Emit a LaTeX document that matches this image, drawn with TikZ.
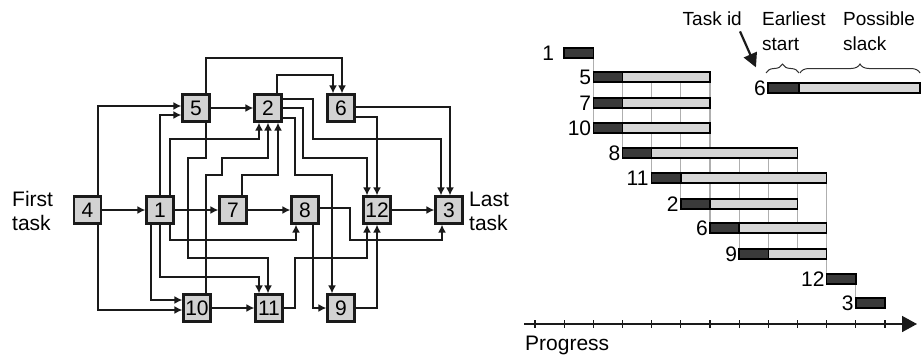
\documentclass[tikz,border=0pt]{standalone}
\usepackage{fontspec}
\setmainfont{Liberation Sans}
\usetikzlibrary{arrows.meta,decorations.pathreplacing,calc}
\definecolor{boxfill}{HTML}{D2D2D2}
\definecolor{bardark}{HTML}{3A3A3A}
\definecolor{barlight}{HTML}{D6D6D6}
\definecolor{linec}{HTML}{1A1A1A}
\definecolor{gridc}{HTML}{AFAFAF}
\begin{document}
\begin{tikzpicture}[x=1pt,y=-1pt,
  task/.style={draw=linec,fill=boxfill,line width=2.2pt,minimum size=27pt,inner sep=0pt,font=\fontsize{21}{24}\selectfont},
  arr/.style={draw=linec,line width=2pt,-{Latex[length=8pt,width=8pt]}},
  lbl/.style={font=\fontsize{21}{24}\selectfont,inner sep=1pt},
  leg/.style={font=\fontsize{19}{25}\selectfont,inner sep=0pt},
  bar/.style={draw=black,line width=1.5pt},
]
\useasboundingbox (0,0) rectangle (924,364);

% ---------- network ----------
\node[task] (n4)  at (87.5,210) {4};
\node[task] (n1)  at (160,210) {1};
\node[task] (n7)  at (233,210) {7};
\node[task] (n8)  at (305,210) {8};
\node[task] (n12) at (377,210) {12};
\node[task] (n3)  at (449,210) {3};
\node[task] (n5)  at (196,108) {5};
\node[task] (n2)  at (268,108) {2};
\node[task] (n6)  at (341,108) {6};
\node[task] (n10) at (197,308) {10};
\node[task] (n11) at (269,308) {11};
\node[task] (n9)  at (341,308) {9};

\node[lbl,anchor=west,align=left] (first) at (11,211) {First\\task};
\node[lbl,anchor=west,align=left] (last) at (468,211) {Last\\task};

\draw[arr] (n4) -- (n1);
\draw[arr] ([xshift=10pt]n4.north) |- ([yshift=2pt]n5.west);
\draw[arr] ([xshift=10pt]n4.south) |- ([yshift=-2pt]n10.west);
\draw[arr] (n1.north) |- ([yshift=-7pt]n5.west);
\draw[arr] ([xshift=10pt]n1.north) |- (259,139) -- ([xshift=-9pt]n2.south);
\draw[arr] (n1) -- (n7);
\draw[arr] ([xshift=-9pt]n1.south) |- ([yshift=8pt]n10.west);
\draw[arr] (n1.south) |- (259,277) -- ([xshift=-10pt]n11.north);
\draw[arr] ([xshift=10pt]n1.south) |- (296,240) -- ([xshift=-9pt]n8.south);
\draw[arr] (n5) -- (n2);
\draw[arr] ([xshift=10pt]n5.north) |- (342,58) -- ([xshift=1pt]n6.north);
\draw[arr] ([xshift=10pt]n5.south) |- (188,158) |- (268,258) -- ([xshift=-1pt]n11.north);
\draw[arr] ([xshift=9pt]n10.north) |- (222,175) |- (268,158) -- (n2.south);
\draw[arr] ([xshift=9pt]n7.north) |- (278,175) -- ([xshift=10pt]n2.south);
\draw[arr] (n7) -- (n8);
\draw[arr] ([xshift=9pt]n2.north) |- (333,75) -- ([xshift=-8pt]n6.north);
\draw[arr] ([yshift=9pt]n2.east) -| (313,139) -| ([xshift=-8pt]n3.north);
\draw[arr] (n2.east) -| (303,158) -| ([xshift=-10pt]n12.north);
\draw[arr] ([yshift=-10pt]n2.east) -| (295,175) -| ([xshift=-9pt]n9.north);
\draw[arr] ([yshift=1pt]n6.east) -| ([xshift=1pt]n3.north);
\draw[arr] ([yshift=-9pt]n6.east) -| (n12.north);
\draw[arr] (n12) -- (n3);
\draw[arr] ([yshift=2pt]n8.east) -| (350,240) -| ([xshift=-7pt]n3.south);
\draw[arr] ([xshift=8pt]n8.south) |- (n9.west);
\draw[arr] (n11.east) -| (295,258) -| ([xshift=-10pt]n12.south);
\draw[arr] (n9.east) -| (n12.south);
\draw[arr] (n10) -- (n11);

% ---------- Gantt chart ----------
\foreach \k/\a/\b in {2/53/128,3/77/153,4/77/178,5/77/204,6/77/228,7/153/254,8/153/254,9/153/254,10/178/279,11/279/303}{
  \draw[gridc,line width=1.2pt] ({535+\k*29.17},\a) -- ({535+\k*29.17},\b);
}
\foreach \t/\s/\e/\yc/\g in {1/1/2/53/9,5/2/6/77/1,7/2/6/103/1,10/2/6/128/1,8/3/9/153/1,11/4/10/178/2,2/5/9/204/1,6/6/10/228/1,9/7/10/254/1,12/10/11/279/1,3/11/12/303/1}{
  \pgfmathsetmacro\xs{535+\s*29.17}
  \pgfmathsetmacro\xe{535+\e*29.17}
  \pgfmathsetmacro\xd{\xs+29.17}
  \filldraw[bar,fill=barlight] (\xs,\yc-5) rectangle (\xe,\yc+5);
  \filldraw[bar,fill=bardark] (\xs,\yc-5) rectangle (\xd,\yc+5);
  \node[lbl,anchor=east] (g\t) at (\xs-\g,\yc) {\t};
}
\draw[linec,line width=1.6pt,-{Triangle[length=15pt,width=16pt]}] (524,324) -- (917,324);
\foreach \k in {0,...,12}{
  \draw[linec,line width=1.2pt] ({535+\k*29.17},320) -- ({535+\k*29.17},328);
}
\node[lbl,anchor=west,inner sep=0pt] (prog) at (525,345) {Progress};

% ---------- legend ----------
\node[leg,anchor=base east] (tid) at (742,25) {Task id};
\node[leg,anchor=base west] (ear) at (762,25) {Earliest};
\node[leg,anchor=base west] (sta) at (762,50) {start};
\node[leg,anchor=base west] (pos) at (843,25) {Possible};
\node[leg,anchor=base west] (sla) at (843,50) {slack};
\filldraw[bar,fill=barlight] (768,83) rectangle (920,93);
\filldraw[bar,fill=bardark] (768,83) rectangle (799,93);
\node[lbl,anchor=east] (lg6) at (767,88) {6};
\draw[linec,line width=2.2pt,-{Triangle[length=14pt,width=14pt]}] ($(tid.south east)+(-2,6)$) -- ($(lg6.north)+(-4,-12)$);
\draw[decorate,decoration={brace,amplitude=9pt},gray!40!black,line width=1pt] (766,73) -- (799,73);
\draw[decorate,decoration={brace,amplitude=9pt},gray!40!black,line width=1pt] (800,73) -- (920,73);
\end{tikzpicture}
\end{document}
